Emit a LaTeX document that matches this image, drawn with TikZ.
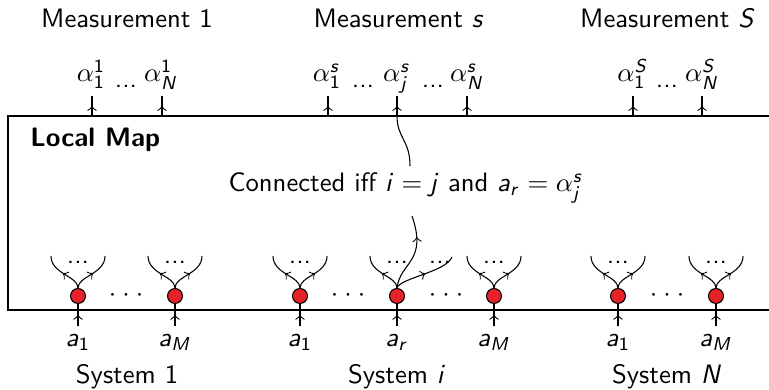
\documentclass[tikz,border=0pt]{standalone}
\usetikzlibrary{decorations.markings}
\DeclareSymbolFont{sfletters}{OT1}{cmss}{m}{sl}
\DeclareSymbolFont{sfdigits}{OT1}{cmss}{m}{n}
\DeclareMathSymbol{a}{\mathalpha}{sfletters}{`a}
\DeclareMathSymbol{i}{\mathalpha}{sfletters}{`i}
\DeclareMathSymbol{j}{\mathalpha}{sfletters}{`j}
\DeclareMathSymbol{r}{\mathalpha}{sfletters}{`r}
\DeclareMathSymbol{s}{\mathalpha}{sfletters}{`s}
\DeclareMathSymbol{M}{\mathalpha}{sfletters}{`M}
\DeclareMathSymbol{N}{\mathalpha}{sfletters}{`N}
\DeclareMathSymbol{S}{\mathalpha}{sfletters}{`S}
\DeclareMathSymbol{1}{\mathalpha}{sfdigits}{`1}
\definecolor{dotred}{RGB}{232,32,40}
\tikzset{
  midarr/.style={postaction={decorate},
    decoration={markings, mark=at position #1 with {\arrow{to}}}},
  midarr/.default=0.5,
  sysdot/.style={circle, draw, fill=dotred, minimum size=5.6pt, inner sep=0pt},
  dots/.style={font=\sffamily, inner sep=0pt, anchor=base},
  bl/.style={anchor=base},
  al/.style={anchor=base, inner sep=1pt},
}
\begin{document}
\begin{tikzpicture}[x=0.375pt, y=-0.375pt, font=\sffamily]
\useasboundingbox (0,0) rectangle (769,390);
% local map box (right side runs off the picture)
\draw (769,116) -- (8,116) -- (8,310) -- (769,310);
\node[anchor=base west, font=\sffamily\bfseries] (lm) at (21,147) {Local Map};

% measurements
\node[bl] (m1) at (127,28) {Measurement 1};
\node[bl] (ms) at (399,28) {Measurement $s$};
\node[bl] (mS) at (668,28) {Measurement $S$};

\node[al] (t11) at (91,82)  {$\alpha^1_1$};
\node[al] (t1N) at (161,82) {$\alpha^1_N$};
\node[al] (ts1) at (327,82) {$\alpha^s_1$};
\node[al] (tsj) at (397,82) {$\alpha^s_j$};
\node[al] (tsN) at (467,82) {$\alpha^s_N$};
\node[al] (tS1) at (633,82) {$\alpha^S_1$};
\node[al] (tSN) at (702,82) {$\alpha^S_N$};

\node[dots] (d1) at (126,88) {...};
\node[dots] (d2) at (363,88) {...};
\node[dots] (d3) at (433,88) {...};
\node[dots] (d4) at (667,88) {...};

\foreach \n/\x in {t11/92,t1N/162,ts1/328,tsj/397,tsN/467,tS1/633,tSN/702}{
  \coordinate (\n b) at (\x,116);
  \coordinate (\n t) at (\x,96);
}
\foreach \n in {t11,t1N,ts1,tsN,tS1,tSN}{
  \draw[midarr] (\n b) -- (\n t);
}

% systems
\foreach \n/\x/\lab in {c11/78/$a_1$, c1M/175/$a_M$, ci1/300/$a_1$, cir/397/$a_r$, ciM/494/$a_M$, cN1/618/$a_1$, cNM/716/$a_M$}{
  \node[sysdot] (\n) at (\x,296) {};
  \node[bl] (l\n) at (\x,347) {\lab};
  \draw[midarr] (\n |- l\n.north) -- (\n);
  \coordinate (\n L) at (\x-27,256);
  \draw[midarr] (\n.north) .. controls +(0,-12) and +(0,18) .. (\n L);
}
\foreach \n/\x in {c11/78, c1M/175, ci1/300, ciM/494, cN1/618, cNM/716}{
  \coordinate (\n R) at (\x+27,256);
  \draw[midarr] (\n.north) .. controls +(0,-12) and +(0,18) .. (\n R);
  \node[dots] at (\x,264) {...};
}
% dots between circles
\foreach \x in {126,348,446,667}{
  \node[inner sep=0pt] at (\x,296) {${\cdot}\hspace{2.3pt}{\cdot}\hspace{2.3pt}{\cdot}$};
}

% special branches of a_r
\coordinate (cirR) at (452,257);
\draw[midarr] (cir.north) .. controls (400,278) and (446,272) .. (cirR);
\node[dots] at (397,264) {...};
\node[dots] at (440,264) {...};

\node[bl, inner sep=1pt] (conn) at (406,192) {Connected iff $i=j$ and $a_r=\alpha^s_j$};
\coordinate (cb) at (412,216);
\coordinate (ct) at (410,166);
\draw[midarr=0.72] (cir.north) .. controls (400,262) and (428,262) .. (cb);
\draw (ct) .. controls (410,140) and (397,138) .. (tsjb);
\draw[midarr] (tsjb) -- (tsjt);

% system labels
\node[bl] (s1) at (127,384) {System 1};
\node[bl] (si) at (397,384) {System $i$};
\node[bl] (sN) at (667,384) {System $N$};
\end{tikzpicture}
\end{document}
